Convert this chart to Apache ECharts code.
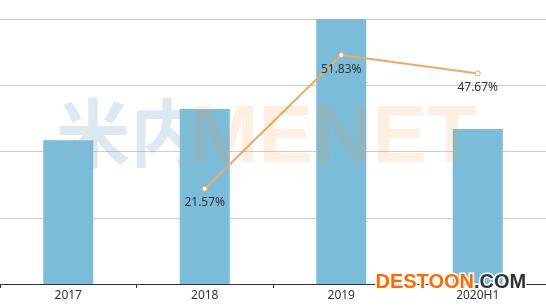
<!DOCTYPE html>
<html><head><meta charset="utf-8">
<script src="https://cdn.jsdelivr.net/npm/echarts@6/dist/echarts.min.js"></script>
<style>html,body{margin:0;padding:0;background:#fff;}#c{width:546px;height:305px;}</style>
</head><body><div id="c"></div>
<script>
var categories = ['2017', '2018', '2019', '2020H1'];
var barValues = [21.7, 26.4, 40.0, 23.4];
var growthValues = ['-', 21.57, 51.83, 47.67];

var chart = echarts.init(document.getElementById('c'), null, {renderer: 'canvas'});
chart.setOption({
  animation: false,
  backgroundColor: '#ffffff',
  grid: {left: -5, right: -3, top: 19, bottom: 21, containLabel: false},
  xAxis: {
    type: 'category',
    data: categories,
    axisLine: {lineStyle: {color: '#333', width: 1}},
    axisTick: {show: true, length: 4, lineStyle: {color: '#333'}},
    axisLabel: {color: '#333', fontSize: 12, margin: 6, fontFamily: 'Noto Sans, sans-serif'}
  },
  yAxis: [
    {type: 'value', min: 0, max: 40, interval: 10,
     axisLine: {show: false}, axisTick: {show: false}, axisLabel: {show: false},
     splitLine: {lineStyle: {color: '#cccccc', width: 1}}},
    {type: 'value', min: 0, max: 60, interval: 15,
     axisLine: {show: false}, axisTick: {show: false}, axisLabel: {show: false},
     splitLine: {show: false}}
  ],
  series: [
    {type: 'bar', data: barValues, barWidth: 50, yAxisIndex: 0,
     itemStyle: {color: '#7bbcd9'}},
    {type: 'line', data: growthValues, yAxisIndex: 1,
     symbol: 'circle', symbolSize: 5,
     lineStyle: {color: '#f0a866', width: 2},
     itemStyle: {color: '#ffffff', borderColor: '#f0a866', borderWidth: 1},
     label: {show: true, position: 'bottom', distance: 5, color: '#333',
       fontSize: 12, fontFamily: 'Noto Sans, sans-serif',
       formatter: function(p){ return p.value + '%'; }}}
  ],
  graphic: [
    {type: 'text', left: 56, top: 96, z: 100,
     style: {text: '米内', fontSize: 74, fontWeight: 'bold',
       fontFamily: 'Noto Sans CJK SC', fill: 'rgba(142,182,205,0.3)'}},
    {type: 'text', left: 190, top: 98, z: 100,
     style: {text: 'MENET', fontSize: 82, fontWeight: 'bold',
       fontFamily: 'Liberation Sans', fill: 'rgba(241,148,62,0.15)'}},
    {type: 'text', left: 374, top: 271, z: 101,
     style: {rich: {
       a: {fontSize: 20, fontWeight: 'bold', fontFamily: 'Liberation Sans', fill: '#ff6a00', stroke: '#ffffff', lineWidth: 3},
       b: {fontSize: 20, fontWeight: 'bold', fontFamily: 'Liberation Sans', fill: '#333333', stroke: '#ffffff', lineWidth: 3}
     }, text: '{a|DESTOON}{b|.COM}'}}
  ]
});
</script></body></html>
